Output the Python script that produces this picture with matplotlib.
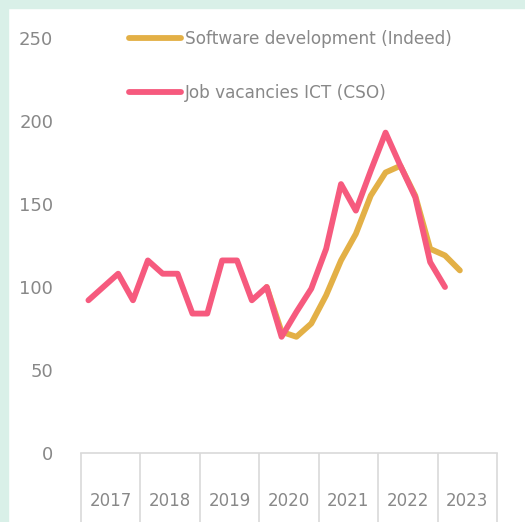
import matplotlib.pyplot as plt
from matplotlib.patches import Rectangle
import numpy as np

years = ["2017", "2018", "2019", "2020", "2021", "2022", "2023"]
quarters = 4

# CSO job vacancies ICT, quarterly index, 2017Q1 .. 2023Q1
cso = [92, 100, 108, 92, 116, 108, 108, 84, 84, 116, 116, 92,
       100, 70, 85, 99, 123, 162, 146, 170, 193, 173, 154, 115, 100]
# Indeed software development, starts at 2020Q1
indeed_start = 12
indeed = [100, 73, 70, 78, 95, 116, 132, 155, 169, 173, 155, 123, 119, 110]

W, H = 525, 522
fig = plt.figure(figsize=(W / 100, H / 100), dpi=100)
fig.patch.set_facecolor("white")

mint = "#d9f0e8"
fig.patches.append(Rectangle((0, 0), 8 / W, 1, transform=fig.transFigure, color=mint, zorder=0))
fig.patches.append(Rectangle((0, 1 - 8 / H), 1, 8 / H, transform=fig.transFigure, color=mint, zorder=0))

left, right = 81 / W, 497 / W
bottom, top = (H - 453) / H, (H - 38) / H
ax = fig.add_axes([left, bottom, right - left, top - bottom])
ax.set_facecolor("none")

grey = "#888888"
yellow = "#e3b046"
pink = "#f65a7e"

n = len(years) * quarters
xc = np.arange(n) + 0.5
ax.plot(xc[indeed_start:indeed_start + len(indeed)], indeed, color=yellow, lw=4.2,
        solid_capstyle="round", solid_joinstyle="round", label="Software development (Indeed)")
ax.plot(xc[:len(cso)], cso, color=pink, lw=4.2,
        solid_capstyle="round", solid_joinstyle="round", label="Job vacancies ICT (CSO)")

ax.set_xlim(0, n)
ax.set_ylim(0, 250)
ax.set_yticks(range(0, 251, 50))
ax.tick_params(axis="y", length=0, pad=20, labelsize=13, labelcolor=grey)

ax.set_xticks(np.arange(len(years)) * quarters + quarters / 2)
ax.set_xticklabels(years)
ax.set_xticks(np.arange(len(years) + 1) * quarters, minor=True)
ax.tick_params(axis="x", which="major", length=0, pad=28, labelsize=12, labelcolor=grey)
ax.tick_params(axis="x", which="minor", length=52, width=1.2, color="#d9d9d9", direction="out")

for s in ["left", "right", "top"]:
    ax.spines[s].set_visible(False)
ax.spines["bottom"].set_color("#d9d9d9")
ax.spines["bottom"].set_linewidth(1.2)

for t in ax.get_xticklabels() + ax.get_yticklabels():
    t.set_fontfamily("DejaVu Sans")

ax.legend(loc="upper left", bbox_to_anchor=(122 / W, 1 - 23 / H), bbox_transform=fig.transFigure,
          frameon=False, handlelength=3.1, handletextpad=0.2, labelspacing=2.15,
          prop={"family": "DejaVu Sans", "size": 12.2}, labelcolor=grey, borderaxespad=0)

fig.savefig("out.png", dpi=100)
